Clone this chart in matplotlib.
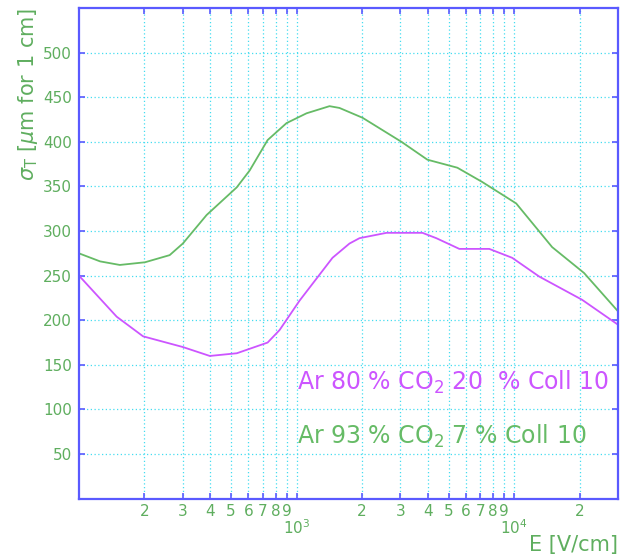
import numpy as np
import matplotlib
matplotlib.use("Agg")
import matplotlib.pyplot as plt
from matplotlib.ticker import FixedLocator, FixedFormatter

# Transverse diffusion vs drift field
e_green = [100, 125, 154, 201, 261, 300, 386, 531, 609, 736, 899, 1111, 1417, 1574,
           2009, 3034, 3990, 5480, 7131, 10210, 14940, 20940, 30000]
s_green = [275, 266, 262, 265, 273, 286, 318, 349, 368, 402, 421, 432, 440, 438,
           427, 400, 380, 371, 355, 331, 282, 253, 210]

e_purple = [100, 149, 197, 270, 300, 399, 531, 736, 835, 1032, 1462, 1750,
            1945, 2588, 3787, 4387, 5596, 7680, 9790, 13030, 20500, 30000]
s_purple = [250, 204, 182, 173, 170, 160, 163, 175, 189, 222, 270, 286,
            292, 298, 298, 292, 280, 280, 270, 249, 223, 195]

label_purple = "Ar 80 % CO$_2$ 20  % Coll 10"
label_green = "Ar 93 % CO$_2$ 7 % Coll 10"

c_green = "#66bb66"
c_purple = "#cc55ff"
c_frame = "#5a5aff"
c_grid = "#44ddf0"
c_text = "#5fae5f"

fig = plt.figure(figsize=(6.21, 5.57), dpi=100)
ax = fig.add_axes([0.1272, 0.1047, 0.9952 - 0.1272, 0.9856 - 0.1047])

ax.plot(e_green, s_green, color=c_green, lw=1.3)
ax.plot(e_purple, s_purple, color=c_purple, lw=1.3)

ax.set_xscale("log")
ax.set_xlim(100, 30000)
ax.set_ylim(0, 550)

major_x = [1000, 10000]
minor_x = [m * 10 ** d for d in (2, 3) for m in range(2, 10)] + [20000]
minor_lbl = [str(m) for m in range(2, 10)] * 2 + ["2"]
ax.xaxis.set_major_locator(FixedLocator(major_x))
ax.xaxis.set_major_formatter(FixedFormatter(["$10^3$", "$10^4$"]))
ax.xaxis.set_minor_locator(FixedLocator(minor_x))
ax.xaxis.set_minor_formatter(FixedFormatter(minor_lbl))

ax.set_yticks([50, 100, 150, 200, 250, 300, 350, 400, 450, 500])

for side in ax.spines.values():
    side.set_color(c_frame)
    side.set_linewidth(1.6)

ax.tick_params(axis="both", which="both", direction="in", color=c_frame,
               width=1.2, length=4, top=True, right=True,
               labelcolor=c_text, labelsize=11)
ax.tick_params(axis="x", which="major", pad=14)
ax.tick_params(axis="x", which="minor", pad=4)
ax.tick_params(axis="y", which="major", pad=5)

ax.grid(True, which="major", axis="both", color=c_grid, ls=(0, (1, 2)), lw=0.9)
ax.grid(True, which="minor", axis="x", color=c_grid, ls=(0, (1, 2)), lw=0.9)
ax.set_axisbelow(True)

ax.set_ylabel(r"$\sigma_{\rm T}$ [$\mu$m for 1 cm]", color=c_text,
              fontsize=15, loc="top", labelpad=2)
fig.text(618 / 621, 1 - 545 / 557, "E [V/cm]", color=c_text, fontsize=15,
         ha="right", va="center")

ax.text(0.405, 0.236, label_purple, transform=ax.transAxes, color=c_purple,
        fontsize=17, ha="left", va="center")
ax.text(0.405, 0.126, label_green, transform=ax.transAxes, color=c_green,
        fontsize=17, ha="left", va="center")

fig.savefig("out.png", dpi=100)
